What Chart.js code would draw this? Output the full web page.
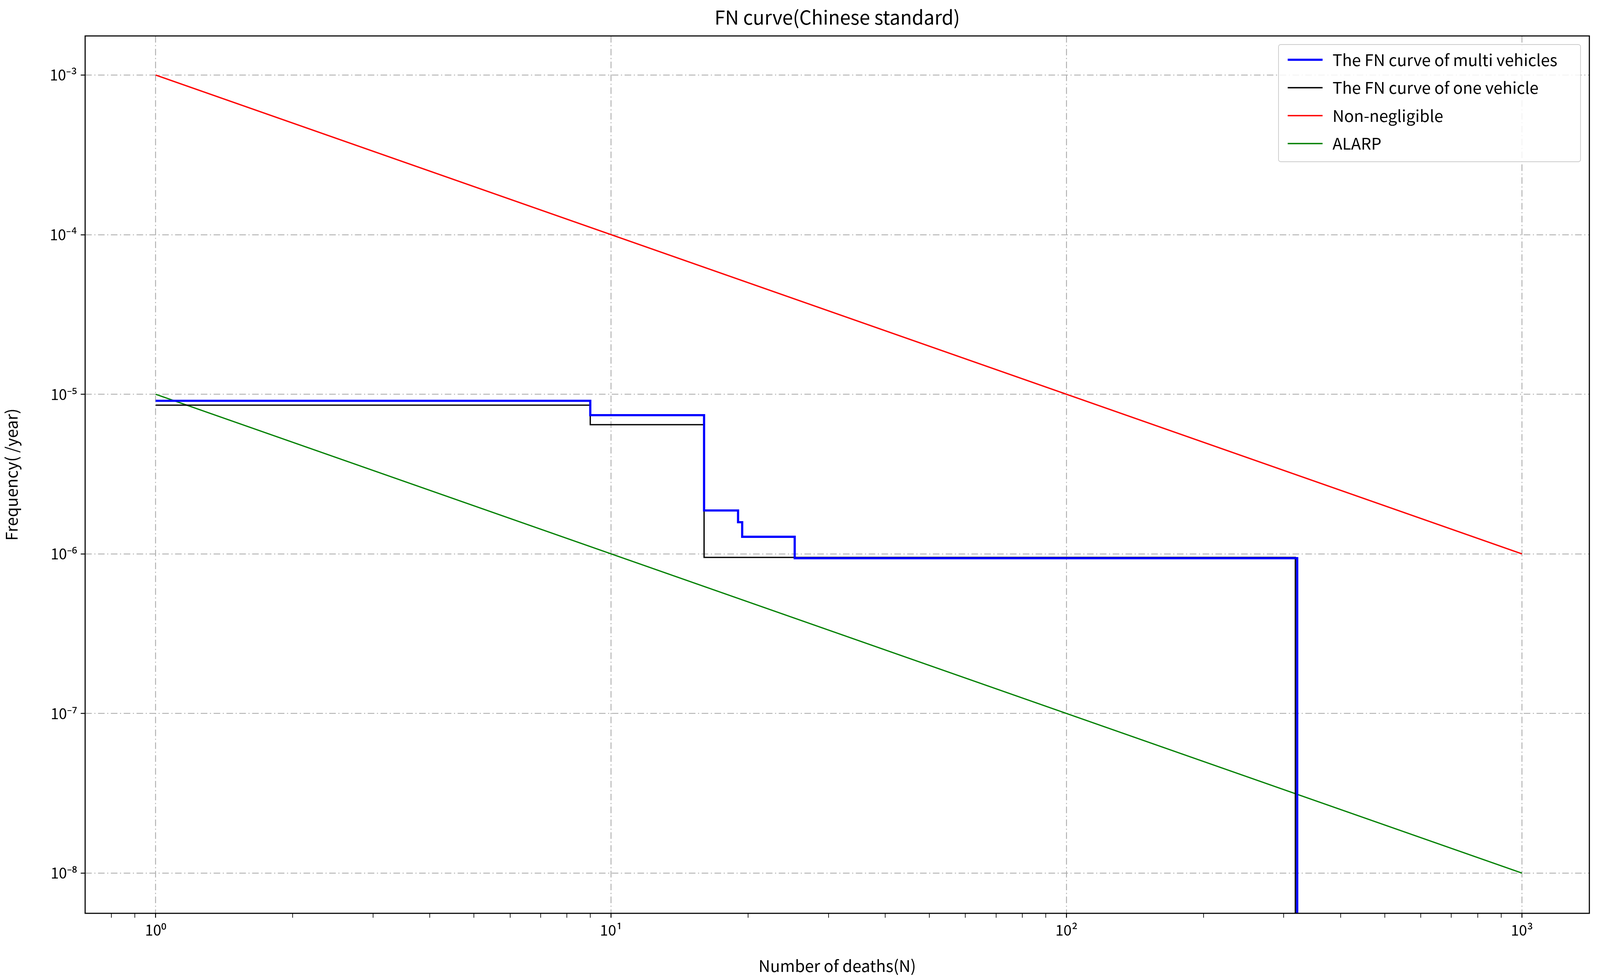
<!DOCTYPE html>
<html>
<head>
<meta charset="utf-8">
<script src="https://cdn.jsdelivr.net/npm/chart.js@4.4.1/dist/chart.umd.min.js"></script>
<style>
  html, body { margin: 0; padding: 0; background: #fff; overflow: hidden; }
  #wrap { width: 100vw; height: 100vh; position: relative; }
</style>
</head>
<body>
<div id="wrap"><canvas id="fn"></canvas></div>
<script>
// Data
const multiX = [1, 9, 16, 19, 19.4, 25.3, 321];
const multiY = [9.1e-6, 7.4e-6, 1.87e-6, 1.58e-6, 1.28e-6, 9.4e-7, 1e-12];
const oneX = [1, 9, 16, 318];
const oneY = [8.55e-6, 6.45e-6, 9.5e-7, 1e-12];
const limitX = [1, 1000];
const nonNegY = [1e-3, 1e-6];
const alarpY = [1e-5, 1e-8];
const xMajor = [1, 10, 100, 1000];
const yMajor = [1e-8, 1e-7, 1e-6, 1e-5, 1e-4, 1e-3];

const FONT = '"Noto Sans CJK SC", "Noto Sans", sans-serif';
const GRID = '#b0b0b0';
// everything was measured on a 4360 x 2501 picture; scale to the real viewport
const kx = window.innerWidth / 4360;
const ky = window.innerHeight / 2501;
const k = Math.min(kx, ky);

function pts(xs, ys) { return xs.map((x, i) => ({ x: x, y: ys[i] })); }

const sup = { '-': '\u207B', '0': '\u2070', '1': '\u00B9', '2': '\u00B2', '3': '\u00B3',
  '4': '\u2074', '5': '\u2075', '6': '\u2076', '7': '\u2077', '8': '\u2078', '9': '\u2079' };
function powLabel(v) {
  const e = String(Math.round(Math.log10(v)));
  return '10' + e.split('').map(c => sup[c]).join('');
}
function isMajor(v) { return Math.abs(Math.log10(v) - Math.round(Math.log10(v))) < 1e-6; }

// x minor ticks 2..9 per decade, as in the picture
function xTicks() {
  const t = [0.8, 0.9];
  for (let d = 1; d <= 100; d *= 10) for (let m = 1; m <= 9; m++) t.push(m * d);
  t.push(1000);
  return t.map(v => ({ value: v }));
}

const legendPlugin = {
  id: 'boxLegend',
  afterDraw(chart) {
    const ctx = chart.ctx;
    const x0 = 3484 * kx, y0 = 114 * ky, w = 823 * kx, h = 300 * ky;
    ctx.save();
    ctx.fillStyle = 'rgba(255,255,255,0.85)';
    ctx.strokeStyle = '#cccccc';
    ctx.lineWidth = 2 * k;
    ctx.beginPath();
    ctx.roundRect(x0, y0, w, h, 6 * k);
    ctx.fill(); ctx.stroke();
    ctx.font = (44 * k) + 'px ' + FONT;
    ctx.textBaseline = 'middle';
    chart.data.datasets.forEach((ds, i) => {
      const y = (153 + i * 71.5) * ky;
      ctx.strokeStyle = ds.borderColor;
      ctx.lineWidth = ds.borderWidth;
      ctx.beginPath(); ctx.moveTo(3509 * kx, y); ctx.lineTo(3604 * kx, y); ctx.stroke();
      ctx.fillStyle = '#000';
      ctx.fillText(ds.label, 3631 * kx, y);
    });
    ctx.font = (52 * k) + 'px ' + FONT;
    ctx.textAlign = 'center';
    ctx.fillText('FN curve(Chinese standard)', (chart.chartArea.left + chart.chartArea.right) / 2, 44 * ky);
    ctx.restore();
  }
};

const framePlugin = {
  id: 'frame',
  afterDatasetsDraw(chart) {
    const a = chart.chartArea, ctx = chart.ctx;
    ctx.save();
    ctx.strokeStyle = '#000';
    ctx.lineWidth = 3 * k;
    ctx.strokeRect(a.left, a.top, a.right - a.left, a.bottom - a.top);
    ctx.restore();
  }
};

new Chart(document.getElementById('fn'), {
  type: 'scatter',
  data: {
    datasets: [
      { label: 'The FN curve of multi vehicles', data: pts(multiX, multiY), showLine: true, stepped: 'before',
        borderColor: '#0000ff', borderWidth: 6 * k, pointRadius: 0 },
      { label: 'The FN curve of one vehicle', data: pts(oneX, oneY), showLine: true, stepped: 'before',
        borderColor: '#000000', borderWidth: 3.5 * k, pointRadius: 0 },
      { label: 'Non-negligible', data: pts(limitX, nonNegY), showLine: true,
        borderColor: '#ff0000', borderWidth: 3.5 * k, pointRadius: 0 },
      { label: 'ALARP', data: pts(limitX, alarpY), showLine: true,
        borderColor: '#008000', borderWidth: 3.5 * k, pointRadius: 0 }
    ]
  },
  options: {
    responsive: true,
    maintainAspectRatio: false,
    animation: false,
    layout: { padding: { top: 92 * ky, right: 29 * kx, left: 0, bottom: 0 } },
    plugins: { legend: { display: false }, tooltip: { enabled: false }, title: { display: false } },
    scales: {
      x: {
        type: 'logarithmic',
        min: Math.pow(10, -0.15), max: Math.pow(10, 3.148),
        afterBuildTicks(s) { s.ticks = xTicks(); },
        afterFit(s) { s.height = 163 * ky; },
        ticks: {
          autoSkip: false, maxRotation: 0, color: '#000', padding: 10 * k,
          font: { family: FONT, size: 40 * k },
          callback: v => isMajor(v) && xMajor.includes(Math.round(v)) ? powLabel(v) : ''
        },
        grid: {
          color: c => isMajor(c.tick.value) ? GRID : 'rgba(0,0,0,0)',
          lineWidth: 2.5 * k, drawTicks: true, tickLength: 12 * k,
          tickColor: '#000', tickWidth: c => (isMajor(c.tick.value) ? 2.5 : 1.8) * k
        },
        border: { display: false, dash: [18 * k, 7 * k, 3 * k, 7 * k] },
        title: { display: true, text: 'Number of deaths(N)', color: '#000', font: { family: FONT, size: 44 * k }, padding: { top: 14 * k } }
      },
      y: {
        type: 'logarithmic',
        min: Math.pow(10, -8.252), max: Math.pow(10, -2.755),
        afterBuildTicks(s) { s.ticks = yMajor.map(v => ({ value: v })); },
        afterFit(s) { s.width = 232 * kx; },
        ticks: {
          autoSkip: false, color: '#000', padding: 10 * k,
          font: { family: FONT, size: 40 * k },
          callback: v => powLabel(v)
        },
        grid: { color: GRID, lineWidth: 2.5 * k, drawTicks: true, tickLength: 12 * k, tickColor: '#000', tickWidth: 2.5 * k },
        border: { display: false, dash: [18 * k, 7 * k, 3 * k, 7 * k] },
        title: { display: true, text: 'Frequency( /year)', color: '#000', font: { family: FONT, size: 44 * k }, padding: { bottom: 14 * k } }
      }
    }
  },
  plugins: [framePlugin, legendPlugin]
});
</script>
</body>
</html>
